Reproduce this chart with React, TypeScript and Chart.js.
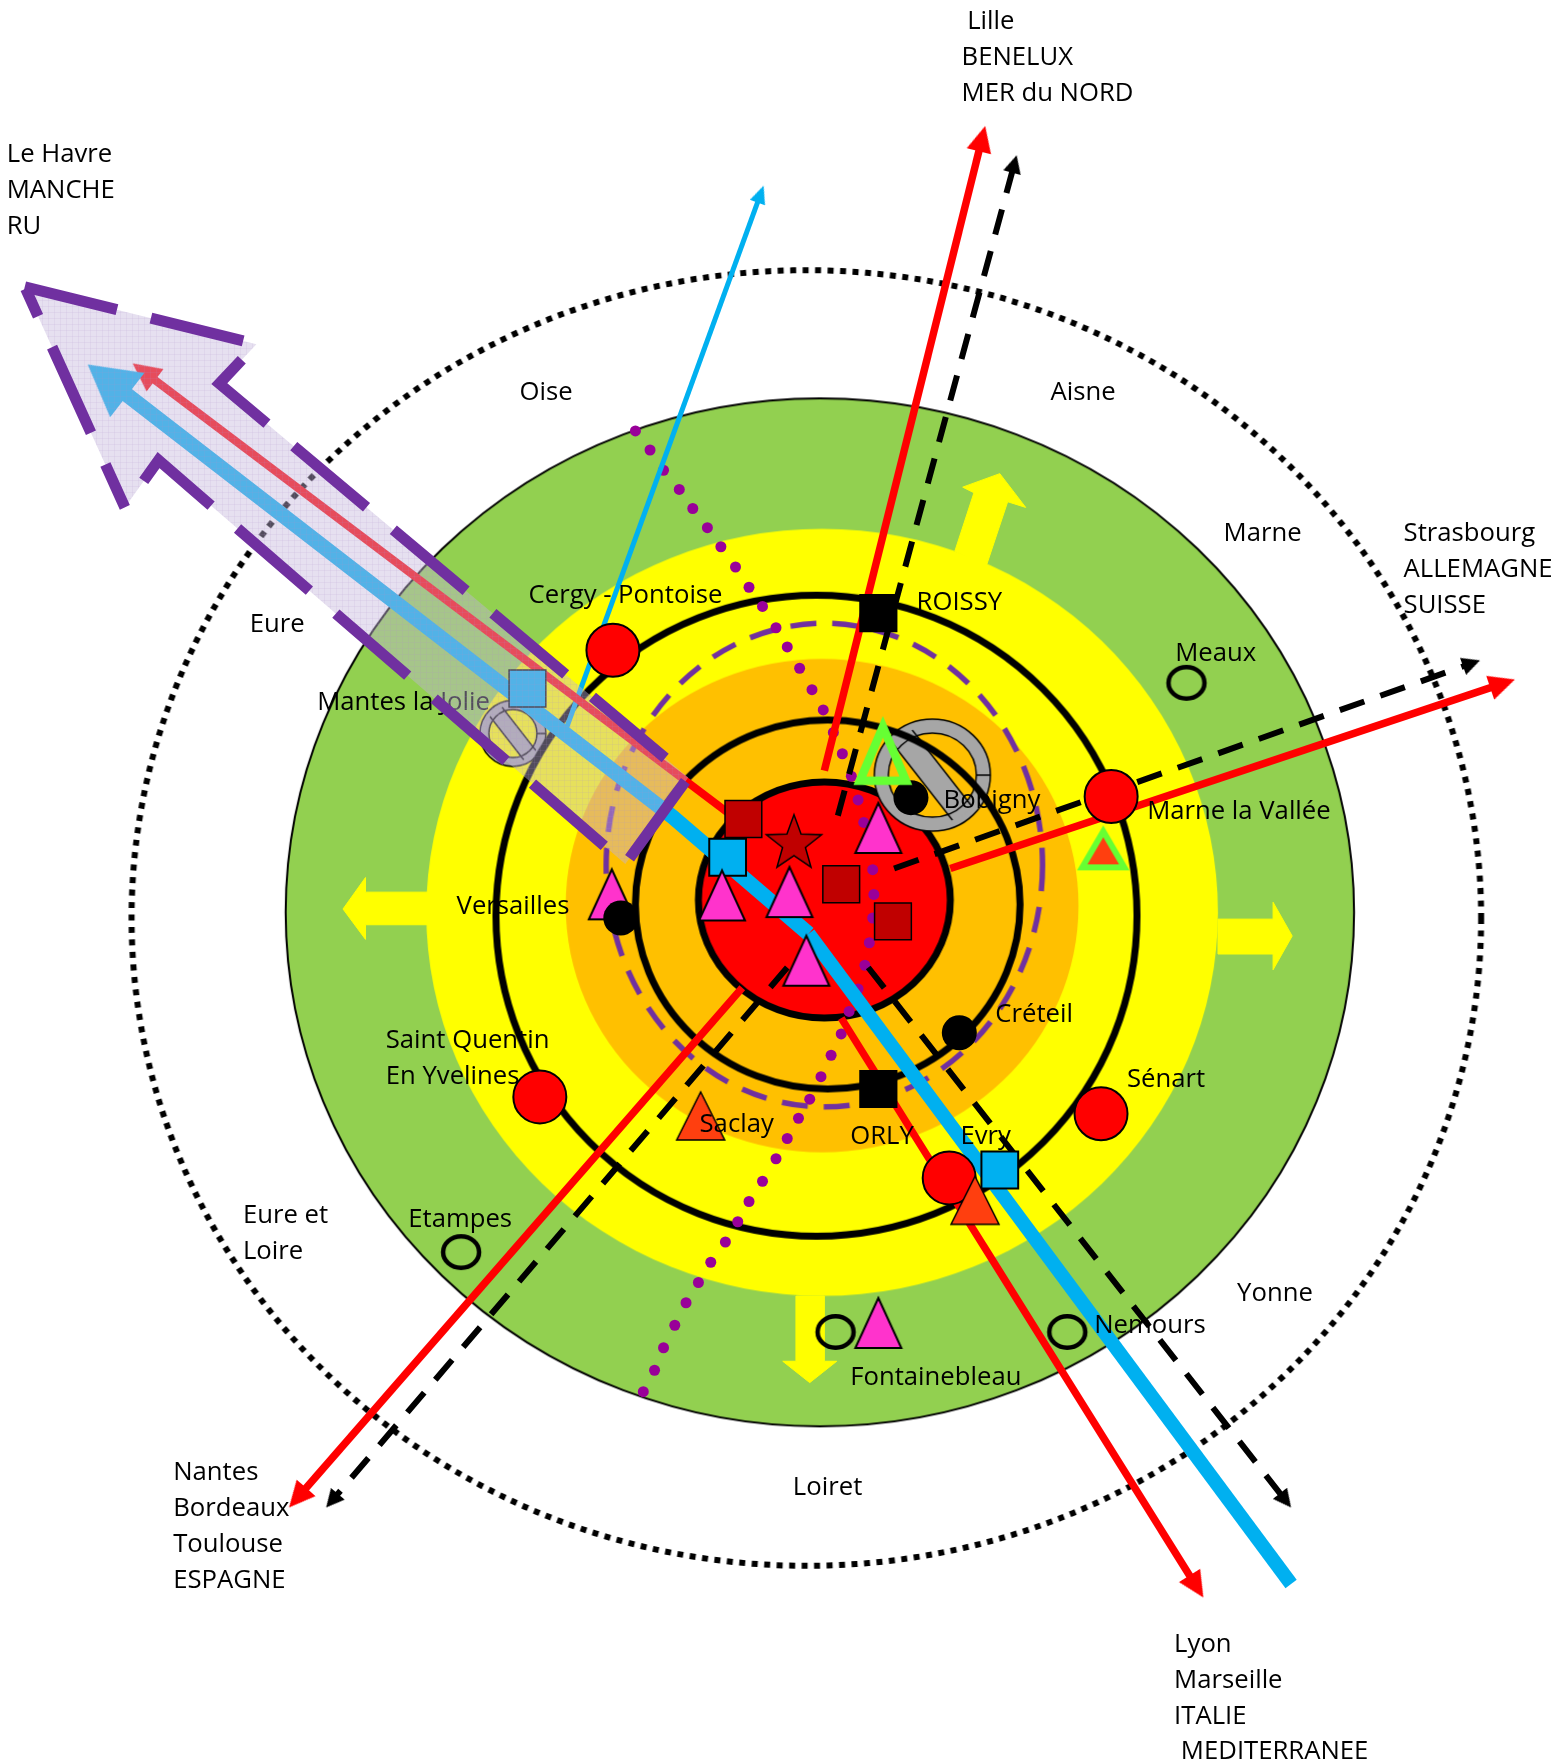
import React, { useEffect, useRef } from "react";
import { Chart, registerables } from "chart.js";

Chart.register(...registerables);

type P = [number, number];

// ---- values, in a 1380 x 1568 reading grid ----
const outerDottedCentre: P[] = [[717, 816]];
const greenZoneCentre: P[] = [[729, 811]];
const yellowZoneCentre: P[] = [[731, 811]];
const orangeZoneCentre: P[] = [[731, 805]];
const coreDiscCentre: P[] = [[733, 800]];
const outerRingCentre: P[] = [[726, 814]];
const innerRingCentre: P[] = [[736, 804]];
const purpleRingCentre: P[] = [[733, 769]];

const pinkTriangles: P[] = [[781, 736], [702, 793], [642, 796], [717, 854], [544, 795], [781, 1176]];
const orangeTriangles: P[] = [[623, 992], [867, 1067]];
const greenOutlineTriangle: P[] = [[785, 670]];
const marneTriangle: P[] = [[981, 755]];
const redCircles: P[] = [[545, 578], [988, 708], [480, 975], [979, 990], [844, 1047]];
const blackSquares: P[] = [[781, 545], [781, 968]];
const blackDots: P[] = [[810, 709], [552, 816], [853, 918]];
const darkRedSquares: P[] = [[661, 728], [748, 786], [794, 819]];
const darkRedStar: P[] = [[706, 750]];
const blueSquares: P[] = [[647, 762], [889, 1040]];
const mantesSquare: P[] = [[469, 612]];
const openCircles: P[] = [[1055, 607], [410, 1113], [743, 1184], [949, 1184]];
const bobignySign: P[] = [[829, 689]];
const mantesSign: P[] = [[456, 652]];

const purpleDots: P[] = [
  [565, 383], [578, 400], [590, 418], [604, 435], [616, 452], [629, 469], [641, 486], [654, 504], [666, 522],
  [678, 539], [690, 558], [700, 575], [711, 594], [722, 613], [732, 631], [741, 651], [749, 670], [757, 690],
  [763, 711], [768, 731], [776, 773], [777, 795], [776, 816], [773, 838], [769, 858], [763, 879], [755, 899],
  [748, 919], [739, 938], [730, 957], [720, 977], [710, 994], [700, 1012], [690, 1030], [678, 1050], [666, 1068],
  [656, 1086], [645, 1104], [632, 1122], [621, 1140], [610, 1158], [600, 1178], [590, 1198], [582, 1218], [572, 1237],
];

const arrowLeft: P[] = [[380, 793], [325, 793], [325, 780], [305, 808], [325, 835], [325, 822], [380, 822], [380, 793]];
const arrowRight: P[] = [[1083, 817], [1132, 817], [1132, 802], [1149, 832], [1132, 862], [1132, 848], [1083, 848], [1083, 817]];
const arrowDown: P[] = [[708, 1152], [708, 1210], [696, 1210], [720, 1229], [744, 1210], [733, 1210], [733, 1152], [708, 1152]];
const arrowUp: P[] = [[849, 490], [866, 438], [856, 433], [889, 421], [912, 451], [896, 446], [877, 503], [849, 490]];
const bigArrow: P[] = [[22, 255], [228, 306], [195, 341], [612, 691], [556, 768], [141, 409], [111, 451], [22, 255]];

const redNorth: P[] = [[733, 685], [876, 112]];
const redEast: P[] = [[845, 772], [1347, 604]];
const redSouthWest: P[] = [[660, 878], [257, 1340]];
const redSouthEast: P[] = [[748, 905], [1070, 1420]];
const redNorthWest: P[] = [[648, 723], [118, 323]];
const dashNorth: P[] = [[745, 725], [904, 138]];
const dashEast: P[] = [[795, 772], [1316, 587]];
const dashSouthWest: P[] = [[700, 860], [290, 1340]];
const dashSouthEast: P[] = [[772, 860], [1148, 1340]];
const cyanNorth: P[] = [[503, 649], [679, 165]];
const blueSouthEast: P[] = [[719, 830], [1148, 1408]];
const blueNorthWest: P[] = [[719, 830], [598, 726], [78, 324]];

const labels: [string, number, number][] = [
  ["Lille", 860, 18], ["BENELUX", 855, 50], ["MER du NORD", 855, 82],
  ["Le Havre", 6, 136], ["MANCHE", 6, 168], ["RU", 6, 200],
  ["Oise", 462, 348], ["Aisne", 934, 348], ["Marne", 1088, 473],
  ["Strasbourg", 1248, 473], ["ALLEMAGNE", 1248, 505], ["SUISSE", 1248, 537],
  ["Eure", 222, 554], ["Cergy - Pontoise", 470, 528], ["ROISSY", 815, 534],
  ["Meaux", 1045, 580], ["Bobigny", 839, 710], ["Marne la Vallée", 1020, 720],
  ["Versailles", 406, 805], ["Créteil", 885, 901], ["Saint Quentin", 343, 924],
  ["En Yvelines", 343, 956], ["Sénart", 1002, 958], ["Saclay", 622, 998],
  ["ORLY", 756, 1009], ["Evry", 854, 1009], ["Eure et", 216, 1079], ["Loire", 216, 1111],
  ["Etampes", 363, 1083], ["Yonne", 1100, 1149], ["Nemours", 973, 1177], ["Fontainebleau", 756, 1223],
  ["Nantes", 154, 1308], ["Bordeaux", 154, 1340], ["Toulouse", 154, 1372], ["ESPAGNE", 154, 1404],
  ["Loiret", 705, 1321], ["Lyon", 1044, 1461], ["Marseille", 1044, 1493], ["ITALIE", 1044, 1525],
  ["MEDITERRANEE", 1050, 1556],
];
const underOverlayLabels: [string, number, number][] = [["Mantes la Jolie", 282, 623]];

// ---- drawing styles ----
const W = 1552;
const H = 1764;
const GRID_W = 1380;
const GRID_H = 1568;
const K = W / GRID_W;
const FONT = '25.7px "Open Sans", Lato, sans-serif';
const TEXT_DROP = 1.5;

function sprite(w: number, h: number, paint: (c: CanvasRenderingContext2D, cx: number, cy: number) => void) {
  const cv = document.createElement("canvas");
  cv.width = Math.ceil(w / 2) * 2;
  cv.height = Math.ceil(h / 2) * 2;
  const c = cv.getContext("2d")!;
  paint(c, cv.width / 2, cv.height / 2);
  return cv;
}

function ellipse(rx: number, ry: number, fill: string | null, stroke: string | null, lw: number, dash: number[] = [], cap: CanvasLineCap = "butt") {
  return sprite(rx * 2 * K + lw * 2 + 8, ry * 2 * K + lw * 2 + 8, (c, cx, cy) => {
    c.beginPath();
    c.ellipse(cx, cy, rx * K, ry * K, 0, 0, Math.PI * 2);
    if (fill) {
      c.fillStyle = fill;
      c.fill();
    }
    if (stroke) {
      c.strokeStyle = stroke;
      c.lineWidth = lw;
      c.lineCap = cap;
      c.setLineDash(dash);
      c.stroke();
    }
  });
}

function triangle(w: number, h: number, fill: string | null, stroke: string, lw: number) {
  const pad = lw * 3 + 6;
  return sprite(w + pad * 2, h + pad * 2, (c, cx, cy) => {
    c.beginPath();
    c.moveTo(cx, cy - h / 2);
    c.lineTo(cx + w / 2, cy + h / 2);
    c.lineTo(cx - w / 2, cy + h / 2);
    c.closePath();
    if (fill) {
      c.fillStyle = fill;
      c.fill();
    }
    c.strokeStyle = stroke;
    c.lineWidth = lw;
    c.lineJoin = "miter";
    c.stroke();
  });
}

function starSprite(outer: number, inner: number, fill: string, stroke: string, lw: number) {
  return sprite(outer * 2 + 8, outer * 2 + 8, (c, cx, cy) => {
    c.beginPath();
    for (let i = 0; i < 10; i++) {
      const r = i % 2 ? inner : outer;
      const a = -Math.PI / 2 + (i * Math.PI) / 5;
      c.lineTo(cx + Math.cos(a) * r, cy + Math.sin(a) * r);
    }
    c.closePath();
    c.fillStyle = fill;
    c.fill();
    c.strokeStyle = stroke;
    c.lineWidth = lw;
    c.stroke();
  });
}

function noSign(rx: number, ry: number, band: number) {
  return sprite(rx * 2 + 8, ry * 2 + 8, (c, cx, cy) => {
    const grey = "#A6A6A6";
    c.beginPath();
    c.ellipse(cx, cy, rx, ry, 0, 0, Math.PI * 2);
    c.ellipse(cx, cy, rx - band, ry - band, 0, 0, Math.PI * 2);
    c.fillStyle = grey;
    c.fill("evenodd");
    c.save();
    c.beginPath();
    c.ellipse(cx, cy, rx - band / 2, ry - band / 2, 0, 0, Math.PI * 2);
    c.clip();
    c.translate(cx, cy);
    c.rotate((52 * Math.PI) / 180);
    c.fillStyle = grey;
    c.strokeStyle = "#000";
    c.lineWidth = 1.5;
    c.fillRect(-rx, -band * 0.85, rx * 2, band * 1.7);
    c.strokeRect(-rx, -band * 0.85, rx * 2, band * 1.7);
    c.restore();
    c.strokeStyle = "#000";
    c.lineWidth = 1.5;
    c.beginPath();
    c.ellipse(cx, cy, rx, ry, 0, 0, Math.PI * 2);
    c.ellipse(cx, cy, rx - band, ry - band, 0, 0, Math.PI * 2);
    c.stroke();
  });
}

function headSprite(len: number, wid: number, color: string) {
  return sprite(Math.max(len, wid) + 4, Math.max(len, wid) + 4, (c, cx, cy) => {
    c.beginPath();
    c.moveTo(cx, cy - len / 2);
    c.lineTo(cx + wid / 2, cy + len / 2);
    c.lineTo(cx - wid / 2, cy + len / 2);
    c.closePath();
    c.fillStyle = color;
    c.fill();
  });
}

const xy = (pts: P[]) => pts.map(([x, y]) => ({ x, y }));

function marker(label: string, pts: P[], pointStyle: any, pointRadius = 6, extra: any = {}) {
  return {
    label,
    data: xy(pts),
    showLine: false,
    pointStyle,
    pointRadius,
    pointBackgroundColor: "#000",
    pointBorderColor: "#000",
    pointBorderWidth: 0,
    clip: false,
    ...extra,
  };
}

function path(label: string, pts: P[], color: string, width: number, dash: number[] = []) {
  return {
    label,
    data: xy(pts),
    showLine: true,
    borderColor: color,
    borderWidth: width,
    borderDash: dash,
    borderCapStyle: "butt",
    borderJoinStyle: "miter",
    tension: 0,
    pointRadius: 0,
    clip: false,
    fill: false,
  };
}

function polygon(label: string, pts: P[], fillColor: any, line: string, width: number, dash: number[] = []) {
  return { ...path(label, pts, line, width, dash), fill: "shape", backgroundColor: fillColor };
}

// an arrow: the shaft stops at the middle of the head, the head points along the shaft
function arrow(label: string, pts: P[], color: string, width: number, dash: number[], len: number, wid: number) {
  const tip = pts[pts.length - 1];
  const prev = pts[pts.length - 2];
  const dx = tip[0] - prev[0];
  const dy = tip[1] - prev[1];
  const d = Math.hypot(dx, dy);
  const off = len / 2 / K;
  const neck: P = [tip[0] - (dx / d) * off, tip[1] - (dy / d) * off];
  const rotation = (Math.atan2(dx, -dy) * 180) / Math.PI;
  return [
    path(label, [...pts.slice(0, -1), neck], color, width, dash),
    marker(label + " head", [neck], headSprite(len, wid, color), 6, { pointRotation: rotation }),
  ];
}

function overlayPattern(ctx: CanvasRenderingContext2D) {
  const cv = document.createElement("canvas");
  cv.width = 6;
  cv.height = 6;
  const c = cv.getContext("2d")!;
  c.fillStyle = "rgba(195,181,219,0.42)";
  c.fillRect(0, 0, 6, 6);
  c.fillStyle = "rgba(170,150,205,0.12)";
  c.fillRect(0, 0, 6, 1);
  c.fillRect(0, 0, 1, 6);
  return ctx.createPattern(cv, "repeat");
}

export default function App() {
  const ref = useRef<HTMLCanvasElement | null>(null);

  useEffect(() => {
    const canvas = ref.current!;
    const ctx = canvas.getContext("2d")!;
    const RED = "#FF0000";
    const BLUE = "#00B0F0";
    const PURPLE = "#7030A0";
    const DARKRED = "#C00000";
    const YELLOW = "#FFFF00";

    const pink = triangle(46, 50, "#FF33CC", "#000", 2);
    const orangeTri = triangle(48, 48, "#FF3F0F", "#000", 1.5);
    const BLACKDASH = [26, 17];

    // listed bottom to top
    const layers: any[] = [
      marker("outer limit", outerDottedCentre, ellipse(600, 576, null, "#000", 6, [6, 6.5])),
      marker("green zone", greenZoneCentre, ellipse(475, 457, "#92D050", "#000", 2)),
      marker("yellow zone", yellowZoneCentre, ellipse(352, 341, YELLOW, null, 0)),
      polygon("arrow left", arrowLeft, YELLOW, YELLOW, 1),
      polygon("arrow right", arrowRight, YELLOW, YELLOW, 1),
      polygon("arrow down", arrowDown, YELLOW, YELLOW, 1),
      polygon("arrow up", arrowUp, YELLOW, YELLOW, 1),
      marker("orange zone", orangeZoneCentre, ellipse(228, 219.5, "#FFC000", null, 0)),
      marker("core", coreDiscCentre, ellipse(112, 105, RED, "#000", 7)),
      marker("Bobigny sign", bobignySign, noSign(58, 56, 14)),
      marker("Mantes sign", mantesSign, noSign(33, 33, 9)),
      marker("outer ring", outerRingCentre, ellipse(285, 285, null, "#000", 7)),
      marker("inner ring", innerRingCentre, ellipse(171, 164, null, "#000", 7)),
      marker("A86 ring", purpleRingCentre, ellipse(194, 215, null, PURPLE, 5.5, [26, 16])),
      marker("purple dots", purpleDots, "circle", 5.5, { pointBackgroundColor: "#990099", pointBorderColor: "#990099" }),
      ...arrow("red north", redNorth, RED, 7.5, [], 26, 25),
      ...arrow("red east", redEast, RED, 7.5, [], 26, 25),
      ...arrow("red south west", redSouthWest, RED, 7.5, [], 26, 25),
      ...arrow("red south east", redSouthEast, RED, 7.5, [], 26, 25),
      ...arrow("dash north", dashNorth, "#000", 6, BLACKDASH, 18, 18),
      ...arrow("dash east", dashEast, "#000", 6, BLACKDASH, 18, 18),
      ...arrow("dash south west", dashSouthWest, "#000", 6, BLACKDASH, 18, 18),
      ...arrow("dash south east", dashSouthEast, "#000", 6, BLACKDASH, 18, 18),
      ...arrow("cyan north", cyanNorth, BLUE, 5, [], 18, 16),
      ...arrow("red north west", redNorthWest, RED, 8, [], 28, 28),
      path("blue south east", blueSouthEast, BLUE, 14),
      ...arrow("blue north west", blueNorthWest, BLUE, 15, [], 50, 56),
      marker("Mantes square", mantesSquare, "rect", 26, { pointBackgroundColor: BLUE, pointBorderWidth: 1.5 }),
      marker("red circles", redCircles, "circle", 26.5, { pointBackgroundColor: RED, pointBorderWidth: 2 }),
      marker("black squares", blackSquares, "rect", 27),
      marker("dark red squares", darkRedSquares, "rect", 26, { pointBackgroundColor: DARKRED, pointBorderWidth: 1.5 }),
      marker("blue squares", blueSquares, "rect", 26, { pointBackgroundColor: BLUE, pointBorderWidth: 2 }),
      marker("star", darkRedStar, starSprite(29, 12, DARKRED, "#000", 1.5)),
      marker("pink triangles", pinkTriangles, pink),
      marker("orange triangles", orangeTriangles, orangeTri),
      marker("black dots", blackDots, "circle", 17.5),
      marker("green triangle", greenOutlineTriangle, triangle(46, 54, null, "#66FF33", 8.5)),
      marker("marne triangle", marneTriangle, triangle(42, 36, "#FF3F0F", "#66FF33", 6)),
      marker("open circles", openCircles, ellipse(16, 14, null, "#000", 4.5)),
      polygon("west corridor", bigArrow, overlayPattern(ctx), "rgba(0,0,0,0)", 1),
      path("west corridor outline", bigArrow.slice(0, 7), PURPLE, 11, [95, 35]),
      path("west corridor closing edge", bigArrow.slice(6), PURPLE, 11, [47, 35, 94, 34, 30, 60]),
    ];

    const textPlugin = {
      id: "labels",
      afterDatasetDraw(chart: any, args: any) {
        if (chart.data.datasets[args.index].label !== "open circles") return;
        write(chart, underOverlayLabels);
      },
      afterDatasetsDraw(chart: any) {
        write(chart, labels);
      },
    };

    function write(chart: any, list: [string, number, number][]) {
      const c = chart.ctx;
      c.save();
      c.font = FONT;
      c.fillStyle = "#000";
      c.textAlign = "left";
      c.textBaseline = "middle";
      for (const [text, x, y] of list) {
        c.fillText(text, chart.scales.x.getPixelForValue(x), chart.scales.y.getPixelForValue(y) + TEXT_DROP);
      }
      c.restore();
    }

    const chart = new Chart(canvas, {
      type: "scatter",
      data: { datasets: layers.reverse() },
      options: {
        animation: false,
        responsive: false,
        maintainAspectRatio: false,
        events: [],
        layout: { padding: 0, autoPadding: false },
        plugins: { legend: { display: false }, tooltip: { enabled: false }, title: { display: false } },
        scales: {
          x: { type: "linear", display: false, min: 0, max: GRID_W },
          y: { type: "linear", display: false, min: 0, max: GRID_H, reverse: true },
        },
      },
      plugins: [textPlugin],
    } as any);
    return () => chart.destroy();
  }, []);

  return <canvas ref={ref} width={W} height={H} style={{ position: "absolute", left: 0, top: 0, width: W, height: H, background: "#fff" }} />;
}
